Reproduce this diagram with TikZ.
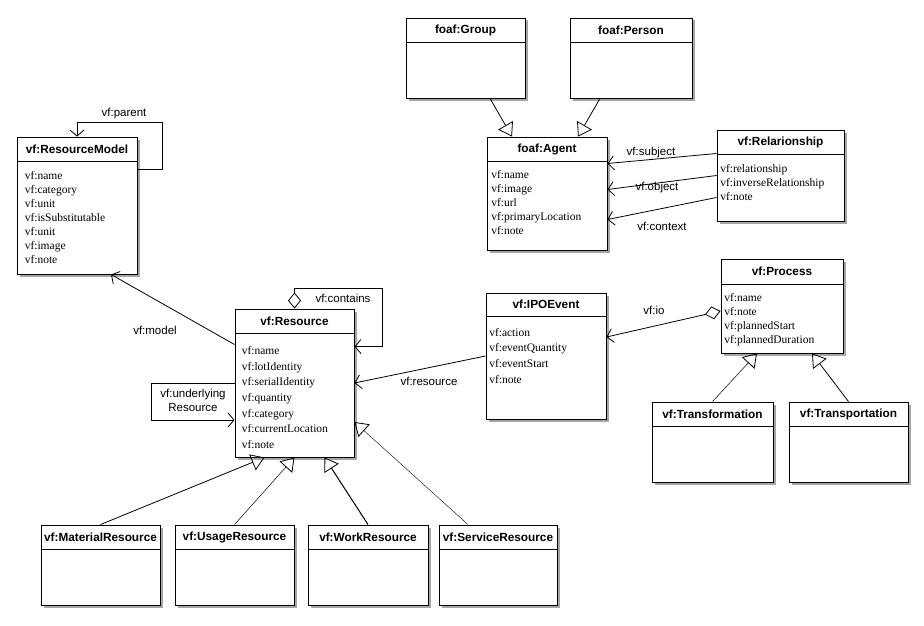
\documentclass[tikz,border=0pt]{standalone}
\usepackage{fontspec}
\setmainfont{Liberation Serif}
\setsansfont{Liberation Sans}
\usetikzlibrary{arrows.meta,shadows}

\begin{document}
\begin{tikzpicture}[x=1pt, y=-1pt,
  cls/.style={draw, line width=0.9pt, fill=white, inner sep=0pt,
    drop shadow={shadow xshift=2.5pt, shadow yshift=-2.5pt, fill=black, opacity=0.35}},
  hdr/.style={font=\sffamily\bfseries\fontsize{11.8}{14}\selectfont, inner sep=0pt},
  attr/.style={anchor=north west, align=left, inner sep=0pt, font=\fontsize{11.5}{14}\selectfont},
  lbl/.style={font=\sffamily\fontsize{11.5}{14}\selectfont, inner sep=0pt, align=center},
  assoc/.style={line width=0.8pt, -{Straight Barb[length=6pt, width=14pt]}},
  gen/.style={line width=0.8pt, -{Triangle[open, length=13pt, width=17pt, line width=0.8pt]}},
  aggr/.style={line width=0.8pt, {Diamond[open, length=16pt, width=13pt]}-{Straight Barb[length=6pt, width=14pt]}}]

\useasboundingbox (0,0) rectangle (924,626);

% --- Recursos ---

% vf:ResourceModel
\node[cls, minimum width=120pt, minimum height=137pt] (rmodel) at (77,205.5) {};
\node[hdr] at ([yshift=-12.5pt]rmodel.north) {vf:ResourceModel};
\draw[line width=0.9pt] ([yshift=-25pt]rmodel.north west) -- ([yshift=-25pt]rmodel.north east);
\node[attr] at ([xshift=8pt, yshift=-34.5pt]rmodel.north west)
  {vf:name\\vf:category\\vf:unit\\vf:isSubstitutable\\vf:unit\\vf:image\\vf:note};

% vf:Resource
\node[cls, minimum width=119pt, minimum height=148pt] (resource) at (294.5,383) {};
\node[hdr] at ([yshift=-12.5pt]resource.north) {vf:Resource};
\draw[line width=0.9pt] ([yshift=-25pt]resource.north west) -- ([yshift=-25pt]resource.north east);
\node[attr, font=\fontsize{11.5}{15.7}\selectfont] at ([xshift=7pt, yshift=-37.5pt]resource.north west)
  {vf:name\\vf:lotIdentity\\vf:serialIdentity\\vf:quantity\\vf:category\\vf:currentLocation\\vf:note};

% Subclases de vf:Resource
\node[cls, minimum width=119pt, minimum height=80pt] (material) at (100.5,565) {};
\node[hdr] at ([yshift=-12.5pt]material.north) {vf:MaterialResource};
\draw[line width=0.9pt] ([yshift=-25pt]material.north west) -- ([yshift=-25pt]material.north east);

\node[cls, minimum width=119pt, minimum height=80pt] (usage) at (234.5,565) {};
\node[hdr] at ([yshift=-12.5pt]usage.north) {vf:UsageResource};
\draw[line width=0.9pt] ([yshift=-25pt]usage.north west) -- ([yshift=-25pt]usage.north east);

\node[cls, minimum width=120pt, minimum height=80pt] (work) at (368,565) {};
\node[hdr] at ([yshift=-12.5pt]work.north) {vf:WorkResource};
\draw[line width=0.9pt] ([yshift=-25pt]work.north west) -- ([yshift=-25pt]work.north east);

\node[cls, minimum width=118pt, minimum height=80pt] (service) at (498,565) {};
\node[hdr] at ([yshift=-12.5pt]service.north) {vf:ServiceResource};
\draw[line width=0.9pt] ([yshift=-25pt]service.north west) -- ([yshift=-25pt]service.north east);

% --- Agentes ---

\node[cls, minimum width=119pt, minimum height=80pt] (group) at (465.5,58) {};
\node[hdr] at ([yshift=-12.5pt]group.north) {foaf:Group};
\draw[line width=0.9pt] ([yshift=-25pt]group.north west) -- ([yshift=-25pt]group.north east);

\node[cls, minimum width=122pt, minimum height=80pt] (person) at (631,58) {};
\node[hdr] at ([yshift=-12.5pt]person.north) {foaf:Person};
\draw[line width=0.9pt] ([yshift=-25pt]person.north west) -- ([yshift=-25pt]person.north east);

\node[cls, minimum width=120pt, minimum height=113pt] (agent) at (547,193.5) {};
\node[hdr] at ([yshift=-12.5pt]agent.north) {foaf:Agent};
\draw[line width=0.9pt] ([yshift=-25pt]agent.north west) -- ([yshift=-25pt]agent.north east);
\node[attr] at ([xshift=4.5pt, yshift=-33.5pt]agent.north west)
  {vf:name\\vf:image\\vf:url\\vf:primaryLocation\\vf:note};

\node[cls, minimum width=127pt, minimum height=91pt] (rel) at (780.5,175.5) {};
\node[hdr] at ([yshift=-12.5pt]rel.north) {vf:Relarionship};
\draw[line width=0.9pt] ([yshift=-25pt]rel.north west) -- ([yshift=-25pt]rel.north east);
\node[attr] at ([xshift=3.5pt, yshift=-34.5pt]rel.north west)
  {vf:relationship\\vf:inverseRelationship\\vf:note};

% --- Procesos y eventos ---

\node[cls, minimum width=120pt, minimum height=126pt] (ipo) at (546,356) {};
\node[hdr] at ([yshift=-12pt]ipo.north) {vf:IPOEvent};
\draw[line width=0.9pt] ([yshift=-24pt]ipo.north west) -- ([yshift=-24pt]ipo.north east);
\node[attr, font=\fontsize{11.5}{15.6}\selectfont] at ([xshift=3.5pt, yshift=-35.5pt]ipo.north west)
  {vf:action\\vf:eventQuantity\\vf:eventStart\\vf:note};

\node[cls, minimum width=122pt, minimum height=94pt] (process) at (782,306) {};
\node[hdr] at ([yshift=-13pt]process.north) {vf:Process};
\draw[line width=0.9pt] ([yshift=-26pt]process.north west) -- ([yshift=-26pt]process.north east);
\node[attr] at ([xshift=3.5pt, yshift=-34.5pt]process.north west)
  {vf:name\\vf:note\\vf:plannedStart\\vf:plannedDuration};

\node[cls, minimum width=121pt, minimum height=80pt] (transf) at (712.5,442) {};
\node[hdr] at ([yshift=-12.5pt]transf.north) {vf:Transformation};
\draw[line width=0.9pt] ([yshift=-25pt]transf.north west) -- ([yshift=-25pt]transf.north east);

\node[cls, minimum width=119pt, minimum height=80pt] (transp) at (848.5,442) {};
\node[hdr] at ([yshift=-12.5pt]transp.north) {vf:Transportation};
\draw[line width=0.9pt] ([yshift=-25pt]transp.north west) -- ([yshift=-25pt]transp.north east);

% --- Relaciones ---

% vf:parent
\draw[assoc] ([yshift=-33pt]rmodel.north east) -| ++(25,-47) -| (rmodel.north);
\node[lbl] (lparent) at (124,114) {vf:parent};

% vf:model
\draw[assoc] ([yshift=-36pt]resource.north west) -- ([xshift=34pt]rmodel.south);
\node[lbl] (lmodel) at (155,330) {vf:model};

% vf:contains
\draw[aggr] (resource.north) |- ++(88,-20) |- ([yshift=-38pt]resource.north east);
\node[lbl] (lcontains) at (343,298) {vf:contains};

% vf:underlyingResource
\draw[assoc] (resource.west) -- ++(-83,0) -- ++(0,37) -- ([yshift=-37pt]resource.west);
\node[lbl] (lunder) at (193,400) {vf:underlying\\Resource};

% vf:resource
\draw[assoc] (ipo.west) -- (resource.east);
\node[lbl] (lresource) at (429,381) {vf:resource};

% vf:io
\draw[aggr] ([yshift=-5pt]process.west) -- ([yshift=19pt]ipo.east);
\node[lbl] (lio) at (654,310) {vf:io};

% vf:subject, vf:object, vf:context
\draw[assoc] ([yshift=22pt]rel.west) -- ([yshift=30pt]agent.east);
\node[lbl] (lsubject) at (651,153) {vf:subject};
\draw[assoc] (rel.west) -- ([yshift=4pt]agent.east);
\node[lbl] (lobject) at (657,188) {vf:object};
\draw[assoc] ([yshift=-22pt]rel.west) -- ([yshift=-26pt]agent.east);
\node[lbl] (lcontext) at (662,226) {vf:context};

% Generalizaciones
\draw[gen] ([xshift=24.5pt]group.south) -- ([xshift=-35pt]agent.north);
\draw[gen] ([xshift=-31pt]person.south) -- ([xshift=31pt]agent.north);

\draw[gen] (material.north) -- ([xshift=-30pt]resource.south);
\draw[gen, line width=0.5pt] (usage.north) -- (resource.south);
\draw[gen, line width=1pt] (work.north) -- ([xshift=30pt]resource.south);
\draw[gen, line width=0.4pt] ([xshift=-30pt]service.north) -- ([yshift=-39pt]resource.east);

\draw[gen, line width=0.5pt] (transf.north) -- ([xshift=-25pt]process.south);
\draw[gen] (transp.north) -- ([xshift=30pt]process.south);

\end{tikzpicture}
\end{document}
